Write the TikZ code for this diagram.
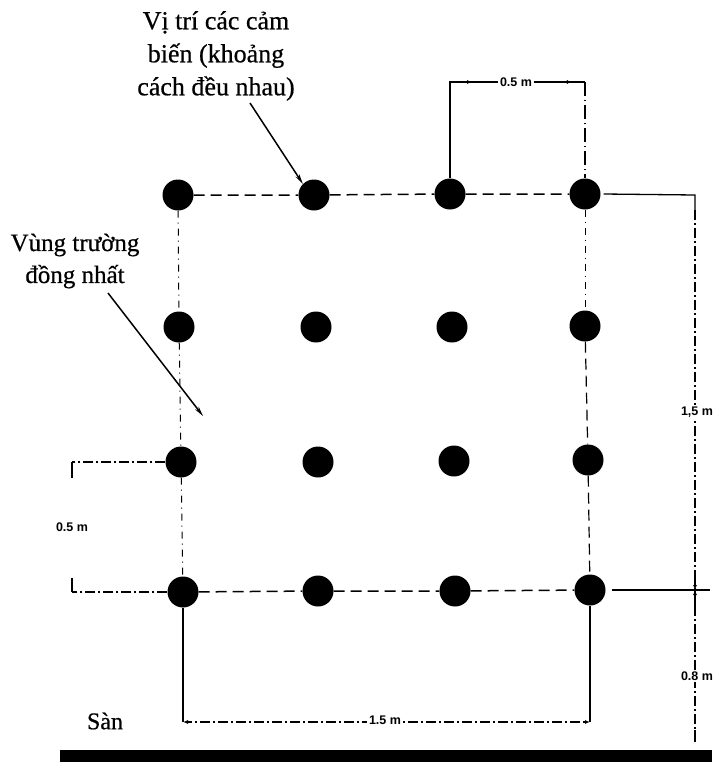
\documentclass[tikz,border=0pt]{standalone}
\usepackage{fontspec}
\setmainfont{Liberation Serif}
\newfontfamily\lblfont[FakeBold=0.6]{Liberation Serif}
\newfontfamily\dimfont{Liberation Sans}
\usetikzlibrary{arrows.meta}
\begin{document}
\begin{tikzpicture}[x=1pt,y=-1pt,
  sensor/.style={circle,fill=black,minimum size=31pt,inner sep=0pt},
  grid/.style={line width=1.5pt,dash pattern=on 11pt off 6pt},
  gridv/.style={line width=1pt,dash pattern=on 7pt off 5pt on 1pt off 5pt},
  dim/.style={line width=1.3pt},
  dimdash/.style={line width=1.1pt,dash pattern=on 10pt off 3pt on 2pt off 3pt},
  dimlbl/.style={font=\dimfont\bfseries\fontsize{12.5}{14}\selectfont,fill=white,inner sep=2pt},
  lbl/.style={font=\lblfont\fontsize{26}{33}\selectfont,align=center},
  ptr/.style={line width=1.5pt,-{Stealth[length=10pt,width=4.5pt]}},
  dtip/.style={-{Latex[length=5pt,width=4pt]}}
]
\useasboundingbox (0,0) rectangle (725,766);
% sensors
\node[sensor] (s11) at (178,195) {};
\node[sensor] (s12) at (314,195) {};
\node[sensor] (s13) at (450,194) {};
\node[sensor] (s14) at (585,194) {};
\node[sensor] (s21) at (179,327) {};
\node[sensor] (s22) at (316,327) {};
\node[sensor] (s23) at (452,327) {};
\node[sensor] (s24) at (585,326) {};
\node[sensor] (s31) at (181,462) {};
\node[sensor] (s32) at (318,462) {};
\node[sensor] (s33) at (454,461) {};
\node[sensor] (s34) at (588,460) {};
\node[sensor] (s41) at (183,592) {};
\node[sensor] (s42) at (318,591) {};
\node[sensor] (s43) at (455,591) {};
\node[sensor] (s44) at (590,590) {};
% grid lines
\draw[grid] (s11) -- (s12) -- (s13) -- (s14);
\draw[grid] (s41) -- (s42) -- (s43) -- (s44);
\draw[gridv] (s11) -- (s21) -- (s31) -- (s41);
\draw[gridv] (s14) -- (s24);
\draw[grid,line width=1.2pt] (s24) -- (s34) -- (s44);
% top dimension 0.5 m
\coordinate (ta) at (450,82);
\coordinate (tb) at (585,82);
\draw[dim] (s13.north) -- (ta) -- (tb);
\draw[dim,dash pattern=on 14pt off 4pt on 1pt off 4pt] (tb) -- (s14.north);
\draw[dim,dtip] (ta) ++(10,0) -- ++(12,0);
\draw[dim,dtip] (tb) ++(-10,0) -- ++(-12,0);
\node[dimlbl] (t05) at (516,82) {0.5 m};
% right dimension 1,5 m and 0,8 m
\coordinate (ra) at (695,195);
\coordinate (rb) at (695,210);
\coordinate (rc) at (695,590);
\coordinate (rd) at (695,742);
\draw[dim] (s14.east) ++(3,0) -- (ra) -- (rb);
\draw[dimdash] (rb) -- (rc) -- (rd);
\draw[dim] (s44.east) ++(6,0) -- (710,590);
\draw[dim,dtip] (695,570) -- (rc);
\draw[dim,dtip] (695,610) -- (rc);
\draw[line width=2pt] (695,730) -- (rd);
\node[dimlbl] (r15) at (697,412) {1,5 m};
\node[dimlbl] (r08) at (697,676) {0.8 m};
% bottom dimension 1.5 m
\coordinate (ba) at (183,722);
\coordinate (bb) at (590,722);
\draw[dim] (s41.south) -- (ba);
\draw[dim] (s44.south) -- (bb);
\draw[dimdash,dtip] (390,722) -- (ba);
\draw[dimdash,dtip] (390,722) -- (bb);
\node[dimlbl] (b15) at (385,720) {1.5 m};
% left dimension 0.5 m
\coordinate (la) at (72,462);
\coordinate (lb) at (72,592);
\draw[dimdash] (s31.west) -- (la);
\draw[line width=2pt] (la) -- ++(0,16);
\draw[dimdash] (s41.west) -- (lb);
\draw[line width=2pt] (lb) -- ++(0,-14);
\node[dimlbl] (l05) at (72,527) {0.5 m};
% floor
\fill (60,750) rectangle (712,762);
\node[font=\lblfont\fontsize{24}{28}\selectfont] (san) at (105,721) {Sàn};
% labels
\node[lbl] (lab1) at (216,56) {Vị trí các cảm\\biến (khoảng\\cách đều nhau)};
\node[lbl,font=\lblfont\fontsize{25}{32}\selectfont] (lab2) at (75,261) {Vùng trường\\đồng nhất};
\draw[ptr] (250,103) -- (s12.north west);
\draw[ptr] (108,293) -- (203,416);
\end{tikzpicture}
\end{document}
